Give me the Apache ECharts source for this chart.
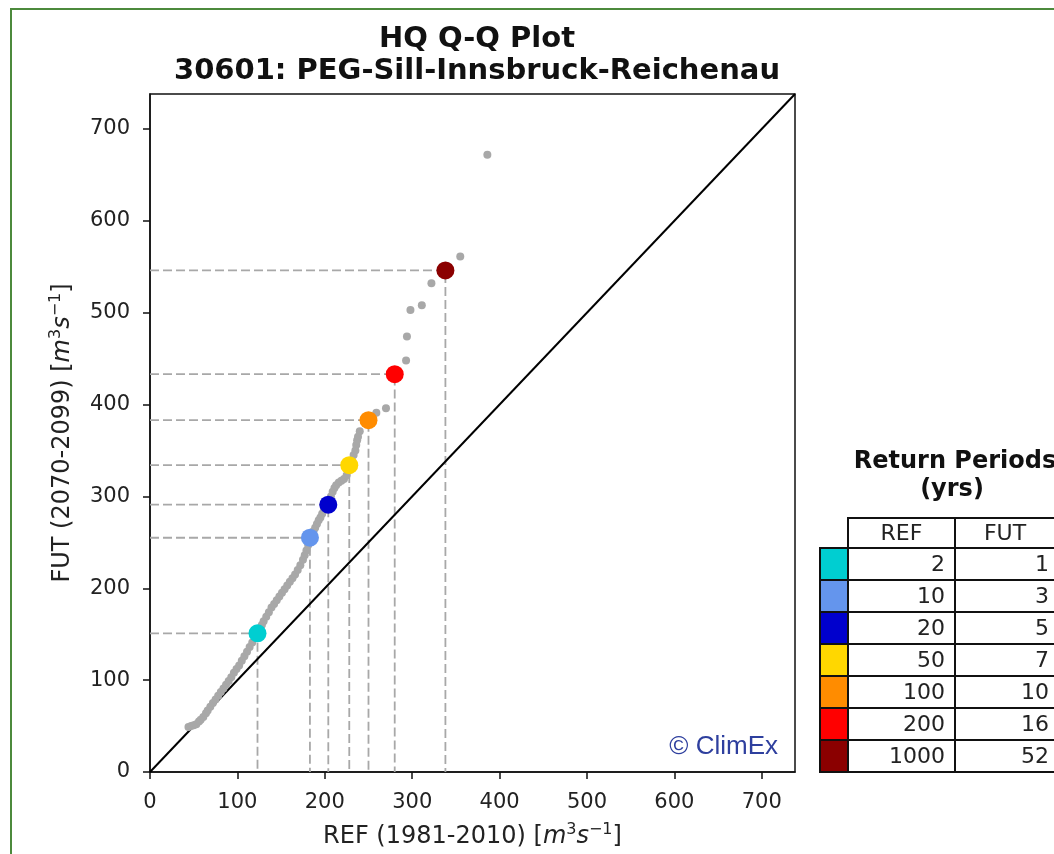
<!DOCTYPE html>
<html>
<head>
<meta charset="utf-8">
<script src="https://cdn.jsdelivr.net/npm/echarts@6/dist/echarts.min.js"></script>
<style>
  html, body { margin: 0; padding: 0; background: #fff; }
  #chart { width: 1054px; height: 854px; }
</style>
</head>
<body>
<div id="chart"></div>
<script>
// quantile pairs (REF, FUT)
const qqPoints = [
  [44, 49], [47, 50], [50, 51], [53, 52], [56, 55], [58, 57], [61, 60], [64, 64], [66, 67],
  [69, 71], [72, 75], [75, 79], [78, 83], [81, 87], [84, 91], [87, 95], [90, 99], [93, 103],
  [96, 108], [99, 112], [102, 116], [105, 121], [108, 126], [111, 131], [114, 136], [117, 141],
  [120, 146], [123, 150], [126, 156], [128, 160], [130, 164], [133, 169], [136, 174], [139, 179],
  [142, 183], [145, 187], [148, 191], [151, 195], [154, 199], [157, 203], [160, 207], [163, 211],
  [166, 215], [169, 220], [172, 225], [175, 231], [177, 236], [179, 241], [181, 247], [183, 253],
  [185, 258], [187, 262], [189, 266], [191, 270], [193, 274], [195, 277], [197, 281], [199, 285],
  [201, 288], [203, 291], [205, 295], [207, 300], [209, 305], [211, 309], [213, 312], [216, 315],
  [219, 317], [222, 319], [225, 323], [227, 328], [229, 334], [231, 339], [233, 345], [235, 350],
  [236, 356], [237, 361], [238, 365], [240, 371], [259, 391], [270, 396], [281, 433], [293, 448],
  [294, 474], [298, 503], [311, 508], [322, 532], [338, 546], [355, 561], [386, 672]
];

// return level points
const refPeriods = ['2', '10', '20', '50', '100', '200', '1000'];
const futPeriods = ['1', '3', '5', '7', '10', '16', '52'];
const refLevels = [123, 183, 204, 228, 250, 280, 338];
const futLevels = [151, 255, 291, 334, 383, 433, 546];
const rpColors = ['#00CED1', '#6495ED', '#0000CD', '#FFD700', '#FF8C00', '#FF0000', '#8B0000'];

const axisMax = 738;
const ticks = [0, 100, 200, 300, 400, 500, 600, 700];

const chart = echarts.init(document.getElementById('chart'));
const FONT = 'DejaVu Sans';

const unitRich = {
  t: { fontFamily: FONT, fontSize: 24, color: '#222', lineHeight: 30 },
  i: { fontFamily: FONT, fontSize: 24, fontStyle: 'italic', color: '#222', lineHeight: 30 },
  s: { fontFamily: FONT, fontSize: 16, color: '#222', verticalAlign: 'top', lineHeight: 30 }
};

function axisCommon(name, isY) {
  return {
    type: 'value',
    min: 0,
    max: axisMax,
    interval: 100,
    name: name,
    nameLocation: 'middle',
    nameGap: isY ? 72 : 50,
    nameRotate: isY ? 90 : 0,
    nameTextStyle: { rich: unitRich },
    splitLine: { show: false },
    axisLine: { show: true, onZero: false, lineStyle: { color: '#111', width: 1.5 } },
    axisTick: { show: true, inside: false, length: 7, lineStyle: { color: '#111', width: 1.5 } },
    axisLabel: {
      fontFamily: FONT, fontSize: 21, color: '#222', margin: 20,
      showMaxLabel: false,
      formatter: v => (ticks.includes(v) ? String(v) : '')
    }
  };
}

// dashed guide lines from each return level point to both axes
const guideSeries = refLevels.map((x, i) => ({
  type: 'line',
  data: [[0, futLevels[i]], [x, futLevels[i]], [x, 0]],
  symbol: 'none',
  silent: true,
  z: 2,
  lineStyle: { color: '#a8a8a8', width: 1.8, type: [9, 4] }
}));

// return periods table drawn beside the plot
const tblLeft = 848, tblMid = 955, tblRight = 1070, swLeft = 820;
const headTop = 518, rowH = 32;
const cellFont = '22px "DejaVu Sans"';
const tableGraphics = [
  { type: 'text', style: { x: 955, y: 462, text: 'Return Periods', font: 'bold 24px "DejaVu Sans"', fill: '#111', align: 'center', verticalAlign: 'middle' } },
  { type: 'text', style: { x: 952, y: 490, text: '(yrs)', font: 'bold 24px "DejaVu Sans"', fill: '#111', align: 'center', verticalAlign: 'middle' } },
  { type: 'rect', shape: { x: tblLeft, y: headTop, width: tblRight - tblLeft, height: rowH - 2 }, style: { fill: '#fff', stroke: '#111', lineWidth: 2 } },
  { type: 'line', shape: { x1: tblMid, y1: headTop, x2: tblMid, y2: headTop + rowH - 2 }, style: { stroke: '#111', lineWidth: 2 } },
  { type: 'text', style: { x: (tblLeft + tblMid) / 2, y: headTop + 16, text: 'REF', font: cellFont, fill: '#222', align: 'center', verticalAlign: 'middle' } },
  { type: 'text', style: { x: 1005, y: headTop + 16, text: 'FUT', font: cellFont, fill: '#222', align: 'center', verticalAlign: 'middle' } }
];
refPeriods.forEach((r, i) => {
  const y = headTop + rowH - 2 + i * rowH;
  tableGraphics.push(
    { type: 'rect', shape: { x: swLeft, y: y, width: tblLeft - swLeft, height: rowH }, style: { fill: rpColors[i], stroke: '#111', lineWidth: 2 } },
    { type: 'rect', shape: { x: tblLeft, y: y, width: tblMid - tblLeft, height: rowH }, style: { fill: '#fff', stroke: '#111', lineWidth: 2 } },
    { type: 'rect', shape: { x: tblMid, y: y, width: tblRight - tblMid, height: rowH }, style: { fill: '#fff', stroke: '#111', lineWidth: 2 } },
    { type: 'text', style: { x: tblMid - 10, y: y + rowH / 2 + 1, text: r, font: cellFont, fill: '#222', align: 'right', verticalAlign: 'middle' } },
    { type: 'text', style: { x: 1049, y: y + rowH / 2 + 1, text: futPeriods[i], font: cellFont, fill: '#222', align: 'right', verticalAlign: 'middle' } }
  );
});

chart.setOption({
  backgroundColor: '#fff',
  animation: false,
  title: {
    text: 'HQ Q-Q Plot\n30601: PEG-Sill-Innsbruck-Reichenau',
    left: 472,
    textAlign: 'center',
    top: 18,
    textStyle: { fontFamily: FONT, fontWeight: 'bold', fontSize: 29, color: '#111', lineHeight: 32 }
  },
  grid: {
    left: 150, top: 94, width: 645, height: 678,
    show: true, borderColor: '#111', borderWidth: 1.5, backgroundColor: 'transparent'
  },
  xAxis: axisCommon('{t|REF (1981-2010) [}{i|m}{s|3}{i|s}{s|−1}{t|]}', false),
  yAxis: axisCommon('{t|FUT (2070-2099) [}{i|m}{s|3}{i|s}{s|−1}{t|]}', true),
  series: [
    {
      type: 'line',
      data: [[0, 0], [axisMax, axisMax]],
      symbol: 'none',
      silent: true,
      z: 3,
      lineStyle: { color: '#000', width: 2 }
    },
    ...guideSeries,
    {
      type: 'scatter',
      data: qqPoints,
      symbolSize: 8,
      z: 4,
      itemStyle: { color: '#a8a8a8', opacity: 1 }
    },
    {
      type: 'scatter',
      data: refLevels.map((x, i) => ({ value: [x, futLevels[i]], itemStyle: { color: rpColors[i], opacity: 1 } })),
      symbolSize: 18,
      z: 5
    }
  ],
  graphic: [
    { type: 'rect', shape: { x: 11, y: 9, width: 1100, height: 900 }, style: { fill: 'none', stroke: '#4C8A3C', lineWidth: 2 } },
    { type: 'text', style: { x: 778, y: 747, text: '© ClimEx', font: '26px "Liberation Sans"', fill: '#2E3F9E', align: 'right', verticalAlign: 'middle' } },
    ...tableGraphics
  ]
});
</script>
</body>
</html>
